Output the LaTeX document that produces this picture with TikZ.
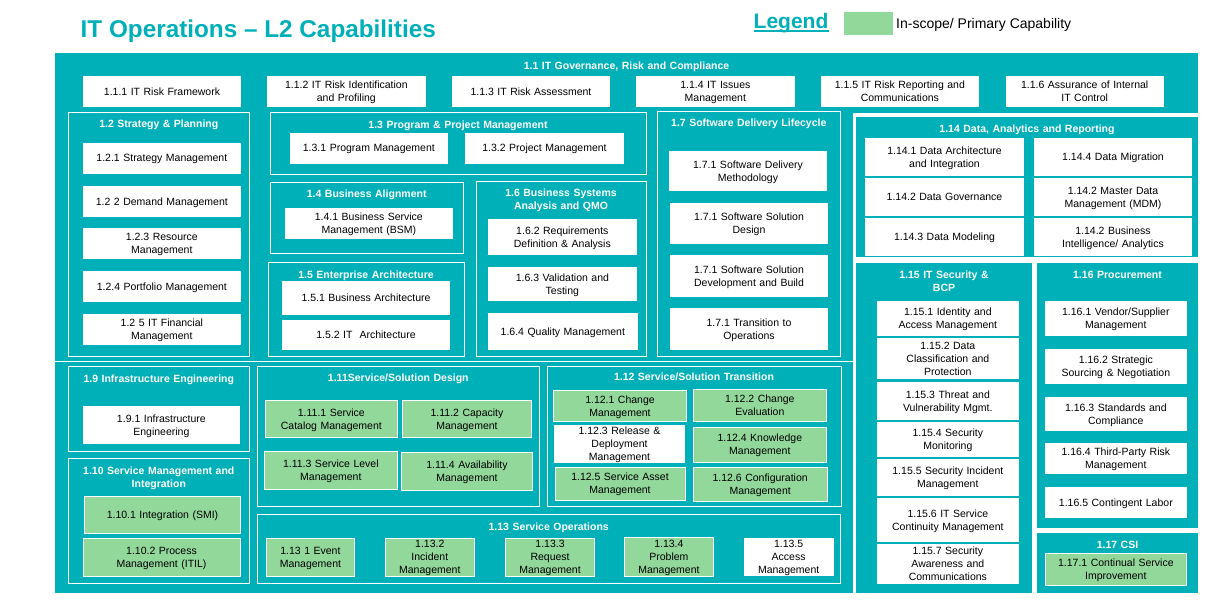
\documentclass[tikz,border=0pt]{standalone}
\usepackage{fontspec}
\setmainfont{Liberation Sans}
\definecolor{teal0}{RGB}{0,176,185}
\definecolor{inscope}{RGB}{146,216,155}
% uniform line box so every label is centred on its line box
\newcommand\lstrut{\rule[-2.2pt]{0pt}{11.7pt}}
\tikzset{
  panel/.style={fill=teal0, draw=none, inner sep=0pt},
  grp/.style={draw=white, line width=0.9pt, inner sep=0pt},
  capw/.style={fill=white, draw=none, inner sep=0pt, align=center, text=black,
    font=\fontsize{10.5}{13}\selectfont,
    execute at begin node={\noindent\lstrut}, execute at end node=\lstrut},
  capg/.style={capw, fill=inscope, draw=white, line width=0.9pt},
  gtitle/.style={text=white, inner sep=0pt, align=center, text width=260pt,
    font=\bfseries\fontsize{10.5}{13}\selectfont,
    execute at begin node={\noindent\lstrut}, execute at end node=\lstrut},
}
% box from its corners: style, name, x1, y1, x2, y2, text
\newcommand\capbox[7]{%
  \pgfmathsetmacro\bw{#5-#3}\pgfmathsetmacro\bh{#6-#4}\pgfmathsetmacro\tw{#5-#3-4}%
  \node[#1, minimum width={\bw pt}, minimum height={\bh pt}, text width={\tw pt}] (#2)
    at ({(#3+#5)/2},{(#4+#6)/2}) {#7};}

\begin{document}
\begin{tikzpicture}[x=1pt,y=-1pt]
\useasboundingbox (0,0) rectangle (1232,608);
\fill[white] (0,0) rectangle (1232,608);

% heading and legend
\node[anchor=base west, inner sep=0pt, text=teal0, font=\bfseries\fontsize{24.3}{28}\selectfont]
  (title) at (80.5,37) {IT Operations -- L2 Capabilities};
\node[anchor=base west, inner sep=0pt, text=teal0, font=\bfseries\fontsize{21}{24}\selectfont]
  (legend) at (753.5,28) {Legend};
\draw[teal0, line width=1.8pt] ([yshift=-2.6pt]legend.base west) -- ([yshift=-2.6pt]legend.base east);
\node[fill=inscope, inner sep=0pt, minimum width=49pt, minimum height=23pt] (legendkey) at (868.5,23.5) {};
\node[anchor=base west, inner sep=0pt, font=\fontsize{14}{16}\selectfont]
  (legendtext) at (896,28.3) {In-scope/ Primary Capability};

% 1.1 main panel
\capbox{panel}{g11}{55}{53}{1198}{592.5}{}
\node[gtitle] (t11) at (626.5,66) {1.1 IT Governance, Risk and Compliance};
\capbox{capw}{b111}{83.3}{76}{240.7}{106.7}{1.1.1 IT Risk Framework}
\capbox{capw}{b112}{267}{76}{425.7}{106.7}{1.1.2 IT Risk Identification\\and Profiling}
\capbox{capw}{b113}{452}{76}{610}{106.7}{1.1.3 IT Risk Assessment}
\capbox{capw}{b114}{636}{76}{794.7}{106.7}{1.1.4 IT Issues\\Management}
\capbox{capw}{b115}{821}{76}{978.7}{106.7}{1.1.5 IT Risk Reporting and\\Communications}
\capbox{capw}{b116}{1005.7}{76}{1163.7}{106.7}{1.1.6 Assurance of Internal\\IT Control}

% 1.2 Strategy & Planning
\capbox{grp}{g12}{68.3}{112.7}{249.3}{356.7}{}
\node[gtitle] (t12) at (158.8,124.3) {1.2 Strategy \& Planning};
\capbox{capw}{b121}{82.7}{142.7}{241}{173.7}{1.2.1 Strategy Management}
\capbox{capw}{b122}{82.7}{186}{241}{216.7}{1.2 2 Demand Management}
\capbox{capw}{b123}{82.7}{227.7}{241}{258.7}{1.2.3 Resource\\Management}
\capbox{capw}{b124}{82.7}{271}{241}{302}{1.2.4 Portfolio Management}
\capbox{capw}{b125}{82.7}{314}{241}{345}{1.2 5 IT Financial\\Management}

% 1.3 Program & Project Management
\capbox{grp}{g13}{270}{112.7}{646}{174.3}{}
\node[gtitle] (t13) at (458,125) {1.3 Program \& Project Management};
\capbox{capw}{b131}{290}{132.7}{447.7}{163.7}{1.3.1 Program Management}
\capbox{capw}{b132}{465}{132.7}{624}{163.7}{1.3.2 Project Management}

% 1.4 Business Alignment
\capbox{grp}{g14}{270}{182.3}{463.3}{253.3}{}
\node[gtitle] (t14) at (366.7,194) {1.4 Business Alignment};
\capbox{capw}{b141}{285}{207.7}{452.7}{238.7}{1.4.1 Business Service\\Management (BSM)}

% 1.5 Enterprise Architecture
\capbox{grp}{g15}{268.3}{262.7}{464.3}{356.7}{}
\node[gtitle] (t15) at (366,275) {1.5 Enterprise Architecture};
\capbox{capw}{b151}{282}{281}{450}{314.7}{1.5.1 Business Architecture}
\capbox{capw}{b152}{282}{320}{450}{350}{1.5.2 IT\ \ Architecture}

% 1.6 Business Systems Analysis and QMO
\capbox{grp}{g16}{476}{181}{646}{356.7}{}
\node[gtitle] (t16) at (561,199.5) {1.6 Business Systems\\Analysis and QMO};
\capbox{capw}{b162}{487.7}{218.7}{637}{255}{1.6.2 Requirements\\Definition \& Analysis}
\capbox{capw}{b163}{487.7}{266.7}{637}{301}{1.6.3 Validation and\\Testing}
\capbox{capw}{b164}{487.7}{312.7}{638}{350}{1.6.4 Quality Management}

% 1.7 Software Delivery Lifecycle
\capbox{grp}{g17}{657.7}{111.7}{840}{356.7}{}
\node[gtitle] (t17) at (748.8,123) {1.7 Software Delivery Lifecycle};
\capbox{capw}{b171a}{669}{151}{827}{191}{1.7.1 Software Delivery\\Methodology}
\capbox{capw}{b171b}{670}{202.7}{828}{244}{1.7.1 Software Solution\\Design}
\capbox{capw}{b171c}{670}{255}{828}{297}{1.7.1 Software Solution\\Development and Build}
\capbox{capw}{b171d}{670}{307.7}{828}{350}{1.7.1 Transition to\\Operations}

% right-hand column
\fill[white] (852.7,113.3) rectangle (1198,592.5);
\capbox{panel}{p114}{856}{116.7}{1198}{256.7}{}
\node[gtitle] (t114) at (1027,129) {1.14 Data, Analytics and Reporting};
\capbox{capw}{b1141}{865}{138.3}{1024}{175.7}{1.14.1 Data Architecture\\and Integration}
\capbox{capw}{b1144}{1034}{138.3}{1192}{175.7}{1.14.4 Data Migration}
\capbox{capw}{b1142}{865}{178.3}{1024}{216}{1.14.2 Data Governance}
\capbox{capw}{b1142m}{1034}{178.3}{1192}{216}{1.14.2 Master Data\\Management (MDM)}
\capbox{capw}{b1143}{865}{218.3}{1024}{255.7}{1.14.3 Data Modeling}
\capbox{capw}{b1142b}{1034}{218.3}{1192}{255.7}{1.14.2 Business\\Intelligence/ Analytics}

\capbox{panel}{p115}{856}{263}{1032}{592.5}{}
\node[gtitle] (t115) at (944,281.3) {1.15 IT Security \&\\BCP};
\capbox{capw}{b1151}{876.7}{301}{1019}{336}{1.15.1 Identity and\\Access Management}
\capbox{capw}{b1152}{876.7}{338.3}{1019}{379}{1.15.2 Data\\Classification and\\Protection}
\capbox{capw}{b1153}{876.7}{382.3}{1019}{420}{1.15.3 Threat and\\Vulnerability Mgmt.}
\capbox{capw}{b1154}{876.7}{422.3}{1019}{456.7}{1.15.4 Security\\Monitoring}
\capbox{capw}{b1155}{876.7}{459.3}{1019}{496}{1.15.5 Security Incident\\Management}
\capbox{capw}{b1156}{876.7}{498.3}{1019}{541.7}{1.15.6 IT Service\\Continuity Management}
\capbox{capw}{b1157}{876.7}{544}{1019}{584}{1.15.7 Security\\Awareness and\\Communications}

\capbox{panel}{p116}{1037}{263}{1198}{528}{}
\node[gtitle] (t116) at (1117.5,275) {1.16 Procurement};
\capbox{capw}{b1161}{1045}{301}{1186.7}{336}{1.16.1 Vendor/Supplier\\Management}
\capbox{capw}{b1162}{1045}{349}{1186.7}{384}{1.16.2 Strategic\\Sourcing \& Negotiation}
\capbox{capw}{b1163}{1045}{397}{1186.7}{431}{1.16.3 Standards and\\Compliance}
\capbox{capw}{b1164}{1045}{442.7}{1186.7}{474}{1.16.4 Third-Party Risk\\Management}
\capbox{capw}{b1165}{1045}{487.3}{1186.7}{517.7}{1.16.5 Contingent Labor}

\capbox{panel}{p117}{1037}{533}{1198}{592.5}{}
\node[gtitle] (t117) at (1117.5,545) {1.17 CSI};
\capbox{capg}{b1171}{1045}{553.3}{1186.7}{585.3}{1.17.1 Continual Service\\Improvement}

% lower band
\draw[white, line width=0.9pt] (55,361) -- (852.7,361);

\capbox{grp}{g19}{68.3}{366.7}{249.3}{451}{}
\node[gtitle] (t19) at (158.8,379) {1.9 Infrastructure Engineering};
\capbox{capw}{b191}{82.7}{406}{240}{443.7}{1.9.1 Infrastructure\\Engineering}

\capbox{grp}{g110}{68.3}{458.3}{249.3}{583.3}{}
\node[gtitle] (t110) at (158.8,477.5) {1.10 Service Management and\\Integration};
\capbox{capg}{b1101}{84.3}{496}{240.7}{533.3}{1.10.1 Integration (SMI)}
\capbox{capg}{b1102}{83}{538}{240}{576.3}{1.10.2 Process\\Management (ITIL)}

\capbox{grp}{g111}{257.3}{366}{539.3}{506.7}{}
\node[gtitle] (t111) at (398.3,378.3) {1.11Service/Solution Design};
\capbox{capg}{b1111}{265}{400.3}{397.7}{437.7}{1.11.1 Service\\Catalog Management}
\capbox{capg}{b1112}{402.3}{400.3}{531.7}{437.7}{1.11.2 Capacity\\Management}
\capbox{capg}{b1113}{264}{451}{397.7}{489.3}{1.11.3 Service Level\\Management}
\capbox{capg}{b1114}{401.3}{452}{532.7}{490}{1.11.4 Availability\\Management}

\capbox{grp}{g112}{547.3}{366}{841}{506.7}{}
\node[gtitle] (t112) at (694,377.3) {1.12 Service/Solution Transition};
\capbox{capg}{b1121}{553.3}{390}{686.7}{421.7}{1.12.1 Change\\Management}
\capbox{capg}{b1122}{693}{389.3}{826.7}{421.7}{1.12.2 Change\\Evaluation}
\capbox{capw}{b1123}{554}{425.7}{685}{462.3}{1.12.3 Release \&\\Deployment\\Management}
\capbox{capg}{b1124}{693}{427.3}{826.7}{462.3}{1.12.4 Knowledge\\Management}
\capbox{capg}{b1125}{555}{467}{685}{500}{1.12.5 Service Asset\\Management}
\capbox{capg}{b1126}{693}{467}{827.3}{501.7}{1.12.6 Configuration\\Management}

\capbox{grp}{g113}{257}{514.3}{840.5}{583.3}{}
\node[gtitle] (t113) at (548.7,526.5) {1.13 Service Operations};
\capbox{capg}{b1131}{266.3}{538.3}{354.5}{576.3}{1.13 1 Event\\Management}
\capbox{capg}{b1132}{385}{538.3}{474.6}{576.3}{1.13.2\\Incident\\Management}
\capbox{capg}{b1133}{505.3}{538.3}{594.8}{576.3}{1.13.3\\Request\\Management}
\capbox{capg}{b1134}{624}{537.3}{713.8}{576.3}{1.13.4\\Problem\\Management}
\capbox{capw}{b1135}{743.7}{538.3}{833.6}{576.3}{1.13.5\\Access\\Management}
\end{tikzpicture}
\end{document}
